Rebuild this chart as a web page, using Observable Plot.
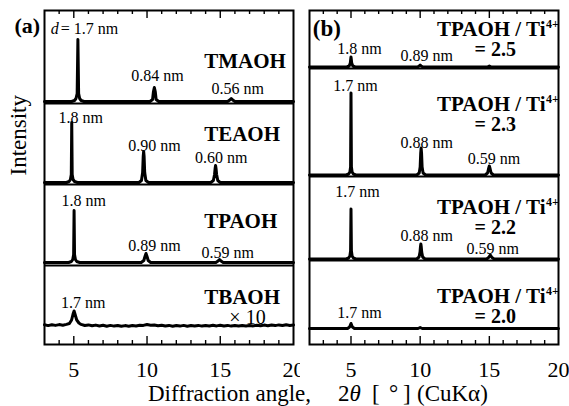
<!DOCTYPE html>
<html><head><meta charset="utf-8">
<script src="https://cdn.jsdelivr.net/npm/d3@7"></script>
<script src="https://cdn.jsdelivr.net/npm/@observablehq/plot@0.6"></script>
<style>
body{margin:0;background:#fff;}
#wrap{position:relative;width:569px;height:406px;overflow:hidden;background:#fff;color:#000;}
#pa{position:absolute;left:0;top:0;}
#pb{position:absolute;left:300px;top:0;}
.xl{position:absolute;top:382px;font-size:23px;line-height:23px;white-space:pre;color:#000;}
</style></head><body>
<div id="wrap" style="font-family:'Liberation Serif'">
<div id="pa"></div><div id="pb"></div>
<span class="xl" style="left:148px;font-family:'Liberation Serif'">Diffraction angle,</span>
<span class="xl" style="left:338px;font-family:'Liberation Serif'">2<i>θ</i></span>
<span class="xl" style="left:372px;font-family:'Liberation Serif'">[</span>
<span class="xl" style="left:389px;font-family:'Liberation Serif'">°</span>
<span class="xl" style="left:403px;font-family:'Liberation Serif'">]</span>
<span class="xl" style="left:417px;font-family:'Liberation Serif'">(CuKα)</span>
</div>
<script>
const FONT_CSS = "font-family:'Liberation Serif';background:white;color:black;overflow:visible;";

// ---------- shared ----------
const tickLabels = [5, 10, 15, 20];
const majorTicks = [5, 10, 15];
const aMinorTicks = [4, 6, 7, 8, 9, 11, 12, 13, 14, 16, 17, 18, 19];
const bMinorTicks = [3, 4, 6, 7, 8, 9, 11, 12, 13, 14, 16, 17, 18, 19];
const yDomain = [0, 334]; // intensity, arbitrary units (stacked)

// ---------- panel (a) ----------
const aDomain = [3, 20];
const aSamples = ["TMAOH", "TEAOH", "TPAOH", "TBAOH"];
const aOffsets = [243, 162, 82, 18.5];
const aSeparators = [241, 160, 79];
const aTraces = {
  TMAOH: [[3,0],[4.85,0],[5.05,1],[5.15,3],[5.23,8],[5.28,62],[5.33,8],[5.4,3],[5.5,1],[5.7,0],
          [10.2,0],[10.38,2],[10.44,10],[10.5,14],[10.56,10],[10.62,2],[10.8,0],
          [15.5,0],[15.65,1.5],[15.75,3],[15.85,1.5],[16,0],[20,0]],
  TEAOH: [[3,0],[4.5,0],[4.68,1],[4.77,3],[4.83,8],[4.86,60],[4.89,8],[4.95,3],[5.05,1],[5.25,0],
          [9.45,0],[9.62,2],[9.7,10],[9.74,26],[9.77,31],[9.8,26],[9.84,10],[9.92,2],[10.1,0],
          [14.35,0],[14.53,2],[14.61,8],[14.65,14],[14.68,17],[14.71,14],[14.75,8],[14.83,2],[15,0],[20,0]],
  TPAOH: [[3,0],[4.65,0],[4.84,1],[4.93,3],[4.99,8],[5.02,52],[5.05,8],[5.11,3],[5.2,1],[5.4,0],
          [9.6,0],[9.78,2],[9.86,6],[9.93,9],[10,6],[10.08,2],[10.25,0],
          [14.7,0],[14.85,1.5],[14.95,3],[15.05,1.5],[15.2,0],[20,0]],
  TBAOH: [[3,1.2],[3.25,0.4],[3.5,1.3],[3.75,0.6],[4,1.4],[4.25,0.8],[4.5,1.6],[4.7,2.5],[4.85,6],[4.95,12],
          [5.02,15],[5.1,11],[5.2,6],[5.35,3],[5.5,1.6],[5.75,0.5],[6,1.1],[6.25,0.2],[6.5,0.9],[6.75,0],
          [7,0.7],[7.25,-0.2],[7.5,0.6],[7.75,-0.1],[8,0.5],[8.25,-0.3],[8.5,0.4],[8.75,-0.2],[9,0.5],[9.25,0],
          [9.5,0.8],[9.75,0.6],[10,1.5],[10.25,0.8],[10.5,1.0],[10.75,0.2],[11,0.8],[11.25,0],[11.5,0.6],[11.75,-0.2],
          [12,0.5],[12.25,-0.1],[12.5,0.6],[12.75,-0.2],[13,0.5],[13.25,0],[13.5,0.6],[13.75,-0.1],[14,0.5],[14.25,0],
          [14.5,0.7],[14.75,0.1],[15,0.8],[15.25,0],[15.5,0.6],[15.75,-0.1],[16,0.5],[16.25,0],[16.5,0.6],[16.75,0],
          [17,0.6],[17.25,0.1],[17.5,0.8],[17.75,0.2],[18,0.9],[18.25,0.3],[18.5,1.0],[18.75,0.4],[19,1.1],[19.25,0.5],
          [19.5,1.2],[19.75,0.6],[20,1.1]]
};
const aPeakLabels = [
  {text: "0.84 nm", x: 10.72, y: 264}, {text: "0.56 nm", x: 16.2, y: 251},
  {text: "1.8 nm", x: 5.48, y: 222}, {text: "0.90 nm", x: 10.51, y: 194}, {text: "0.60 nm", x: 15.07, y: 182},
  {text: "1.8 nm", x: 5.68, y: 139}, {text: "0.89 nm", x: 10.51, y: 94}, {text: "0.59 nm", x: 15.51, y: 87},
  {text: "1.7 nm", x: 5.65, y: 37}
];
const aFirstLabel = {symbol: "d", rest: "= 1.7 nm", xSymbol: 3.42, xRest: 4.11, y: 311};
const aNameY = [277, 204, 117, 41];
const aNameX = 13.9;
const aScaleNote = {text: "× 10", x: 15.62, y: 21};

// ---------- panel (b) ----------
const bDomain = [2, 20];
const bRatios = ["2.5", "2.3", "2.2", "2.0"];
const bOffsets = [277.5, 169.5, 85.5, 16];
const bSeparators = [276, 168, 84];
const bTraces = {
  "2.5": [[2,0],[4.7,0],[4.87,1],[4.95,4],[5,10],[5.05,4],[5.13,1],[5.3,0],
          [9.8,0],[9.93,1],[10,2],[10.07,1],[10.2,0],[14.85,0],[15,1],[15.15,0],[20,0]],
  "2.3": [[2,0],[4.65,0],[4.83,1],[4.92,3],[4.97,8],[5,82],[5.03,8],[5.08,3],[5.17,1],[5.35,0],
          [9.75,0],[9.93,2],[10,8],[10.04,22],[10.07,27],[10.1,22],[10.14,8],[10.21,2],[10.4,0],
          [14.7,0],[14.87,2],[14.94,6],[15,9],[15.06,6],[15.13,2],[15.3,0],[20,0]],
  "2.2": [[2,0],[4.65,0],[4.83,1],[4.92,3],[4.97,8],[5,50],[5.03,8],[5.08,3],[5.17,1],[5.35,0],
          [9.75,0],[9.92,2],[9.99,7],[10.02,12],[10.05,15],[10.08,12],[10.11,7],[10.18,2],[10.35,0],
          [14.8,0],[14.95,1.5],[15.07,4],[15.19,1.5],[15.35,0],[20,0]],
  "2.0": [[2,0],[4.75,0],[4.9,1.5],[5,5],[5.1,1.5],[5.25,0],[9.85,0],[10,1],[10.15,0],[20,0]]
};
const bPeakLabels = [
  {text: "1.8 nm", x: 5.62, y: 291}, {text: "0.89 nm", x: 10.47, y: 284},
  {text: "1.7 nm", x: 5.33, y: 254}, {text: "0.88 nm", x: 10.47, y: 197}, {text: "0.59 nm", x: 15.33, y: 181},
  {text: "1.7 nm", x: 5.47, y: 148}, {text: "0.88 nm", x: 10.47, y: 104}, {text: "0.59 nm", x: 15.25, y: 91},
  {text: "1.7 nm", x: 5.62, y: 27}
];
const bNameY = [309, 234, 131, 42];
const bNameEndX = 19.06;
const bRatioX = 15.43;

// ---------- build ----------
function rows(samples, offsets, traces) {
  const out = [];
  samples.forEach((s, i) => traces[s].forEach(([x, v]) => out.push({sample: s, x, y: offsets[i] + v})));
  return out;
}

function frameMarks(minor) {
  return [
    Plot.frame({stroke: "black", strokeWidth: 2}),
    Plot.tickX(minor, {x: d => d, insetTop: 330, strokeWidth: 1.4}),
    Plot.tickX(majorTicks, {x: d => d, insetTop: 326, strokeWidth: 1.4}),
    Plot.tickX(minor, {x: d => d, insetBottom: 330, strokeWidth: 1.4}),
    Plot.tickX(majorTicks, {x: d => d, insetBottom: 326, strokeWidth: 1.4}),
    Plot.text(tickLabels, {x: d => d, text: d => `${d}`, frameAnchor: "bottom", dy: 32, lineAnchor: "bottom", fontSize: 22})
  ];
}

const plotA = Plot.plot({
  width: 300, height: 406,
  marginLeft: 44, marginRight: 7, marginTop: 10, marginBottom: 62,
  x: {domain: aDomain, axis: null},
  y: {domain: yDomain, axis: null},
  style: FONT_CSS,
  marks: [
    Plot.ruleY(aSeparators, {y: d => d, stroke: "black", strokeWidth: 2}),
    Plot.line(rows(aSamples, aOffsets, aTraces), {x: "x", y: "y", z: "sample", stroke: "black", strokeWidth: 3, strokeLinejoin: "round"}),
    ...frameMarks(aMinorTicks),
    Plot.text(["Intensity"], {text: d => d, frameAnchor: "left", dx: -26, dy: -2, rotate: -90, fontSize: 23}),
    Plot.text(["(a)"], {text: d => d, x: 1.82, y: 311.5, lineAnchor: "bottom", fontSize: 22, fontWeight: "bold"}),
    Plot.text([aFirstLabel], {text: "symbol", x: "xSymbol", y: "y", textAnchor: "start", lineAnchor: "bottom", fontSize: 16, fontStyle: "italic"}),
    Plot.text([aFirstLabel], {text: "rest", x: "xRest", y: "y", textAnchor: "start", lineAnchor: "bottom", fontSize: 16}),
    Plot.text(aPeakLabels, {text: "text", x: "x", y: "y", lineAnchor: "bottom", fontSize: 16}),
    Plot.text(aSamples, {text: d => d, x: () => aNameX, y: (d, i) => aNameY[i], textAnchor: "start", lineAnchor: "bottom", fontSize: 21, fontWeight: "bold"}),
    Plot.text([aScaleNote], {text: "text", x: "x", y: "y", textAnchor: "start", lineAnchor: "bottom", fontSize: 20})
  ]
});
document.getElementById("pa").appendChild(plotA);

const plotB = Plot.plot({
  width: 269, height: 406,
  marginLeft: 9, marginRight: 11, marginTop: 10, marginBottom: 62,
  x: {domain: bDomain, axis: null},
  y: {domain: yDomain, axis: null},
  style: FONT_CSS,
  marks: [
    Plot.ruleY(bSeparators, {y: d => d, stroke: "black", strokeWidth: 2}),
    Plot.line(rows(bRatios, bOffsets, bTraces), {x: "x", y: "y", z: "sample", stroke: "black", strokeWidth: 3, strokeLinejoin: "round"}),
    ...frameMarks(bMinorTicks),
    Plot.text(["(b)"], {text: d => d, x: 3.26, y: 309, lineAnchor: "bottom", fontSize: 23, fontWeight: "bold"}),
    Plot.text(bPeakLabels, {text: "text", x: "x", y: "y", lineAnchor: "bottom", fontSize: 16}),
    Plot.text(bRatios, {text: () => "TPAOH / Ti", x: () => bNameEndX, y: (d, i) => bNameY[i], textAnchor: "end", lineAnchor: "bottom", fontSize: 21, fontWeight: "bold"}),
    Plot.text(bRatios, {text: () => "4+", x: () => bNameEndX, y: (d, i) => bNameY[i], dx: 0.5, dy: -8, textAnchor: "start", lineAnchor: "bottom", fontSize: 12, fontWeight: "bold"}),
    Plot.text(bRatios, {text: d => `= ${d}`, x: () => bRatioX, y: (d, i) => bNameY[i], dy: 20, lineAnchor: "bottom", fontSize: 20, fontWeight: "bold"})
  ]
});
document.getElementById("pb").appendChild(plotB);
</script>
</body></html>
